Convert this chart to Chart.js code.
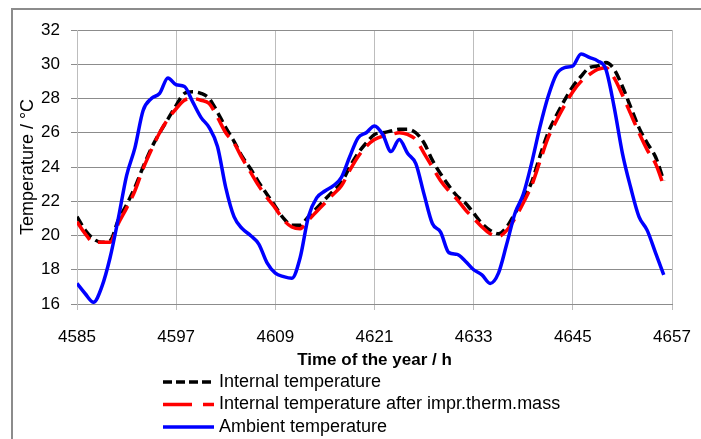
<!DOCTYPE html>
<html lang="en">
<head>
<meta charset="UTF-8">
<title>Internal and ambient temperature</title>
<style>
    body { margin: 0; background: #ffffff; overflow: hidden; }
    .frame { position: absolute; left: 11px; top: 8px; width: 760px; height: 500px; border: 2px solid #8c8c8c; }
    .wrap { position: absolute; left: 0; top: 0; width: 701px; height: 439px; }
</style>
<script src="https://cdn.jsdelivr.net/npm/chart.js"></script>
</head>
<body>
<div class="frame"></div>
<div class="wrap"><canvas id="chart" width="701" height="439"></canvas></div>
<script>
// hours of the year, one value per hour starting at 4585
const startHour = 4585;
const xTicks = [4585, 4597, 4609, 4621, 4633, 4645, 4657];

const internalTemp = [
    21.1, 20.3, 19.8, 19.6, 19.7, 20.9, 21.8, 22.8, 24.0, 25.1, 26.0, 26.8, 27.6, 28.3, 28.4, 28.3,
    28.0, 27.2, 26.3, 25.5, 24.6, 23.9, 23.1, 22.4, 21.7, 21.0, 20.6, 20.6, 21.1, 21.6, 22.1, 22.6,
    23.1, 24.0, 24.8, 25.4, 25.9, 26.0, 26.1, 26.2, 26.2, 26.0, 25.4, 24.4, 23.6, 22.9, 22.3, 21.9,
    21.3, 20.7, 20.3, 20.1, 20.5, 21.3, 22.1, 23.1, 24.6, 26.0, 27.0, 27.9, 28.7, 29.3, 29.8, 29.9,
    30.1, 29.7, 28.7, 27.5, 26.3, 25.4, 24.6, 23.2
];
const improvedTemp = [
    20.8, 20.1, 19.6, 19.6, 19.6, 20.7, 21.6, 22.6, 23.9, 25.0, 26.0, 26.8, 27.4, 27.9, 28.0, 27.9,
    27.7, 26.9, 26.0, 25.4, 24.5, 23.7, 22.9, 22.2, 21.6, 20.9, 20.5, 20.4, 20.9, 21.4, 21.9, 22.4,
    22.9, 23.8, 24.6, 25.2, 25.6, 25.8, 25.9, 26.0, 25.9, 25.6, 24.8, 24.0, 23.2, 22.6, 22.1, 21.5,
    21.0, 20.5, 20.1, 19.95, 20.3, 21.0, 21.9, 22.9, 24.3, 25.7, 26.7, 27.6, 28.4, 29.0, 29.4, 29.7,
    29.8, 29.2, 28.2, 27.1, 26.0, 25.0, 24.2, 22.9
];
const ambientTemp = [
    17.2, 16.6, 16.1, 17.0, 18.7, 21.0, 23.5, 25.1, 27.3, 28.0, 28.3, 29.2, 28.8, 28.7, 27.8, 26.9,
    26.3, 25.2, 22.8, 21.1, 20.4, 20.0, 19.5, 18.4, 17.8, 17.6, 17.5, 18.7, 21.1, 22.2, 22.6, 22.9,
    23.4, 24.6, 25.7, 26.0, 26.4, 25.9, 24.9, 25.6, 24.8, 24.2, 22.4, 20.7, 20.2, 19.0, 18.9, 18.5,
    18.0, 17.7, 17.2, 17.8, 19.5, 21.3, 22.4, 24.2, 26.3, 28.1, 29.4, 29.8, 29.9, 30.6, 30.4, 30.2,
    29.7, 27.5, 24.8, 22.8, 21.1, 20.3, 19.0, 17.7
];

const FONT = "'Liberation Sans', Arial, sans-serif";

function toPoints(values) {
    return values.map((v, i) => ({ x: startHour + i, y: v }));
}

// legend drawn as a vertical list under the axis title
const listLegend = {
    id: 'listLegend',
    afterDraw(chart) {
        const ctx = chart.ctx;
        chart.data.datasets.forEach((ds, i) => {
            const y = 382 + i * 22.5;
            ctx.save();
            ctx.strokeStyle = ds.borderColor;
            ctx.lineWidth = 3.5;
            ctx.setLineDash(ds.legendDash);
            ctx.beginPath();
            ctx.moveTo(163, y);
            ctx.lineTo(214, y);
            ctx.stroke();
            ctx.setLineDash([]);
            ctx.fillStyle = '#000000';
            ctx.font = '18px ' + FONT;
            ctx.textBaseline = 'middle';
            ctx.fillText(ds.label, 219, y);
            ctx.restore();
        });
    }
};

new Chart(document.getElementById('chart'), {
    type: 'line',
    data: {
        datasets: [
            {
                label: 'Internal temperature',
                data: toPoints(internalTemp),
                borderColor: '#000000',
                borderWidth: 3.5,
                borderDash: [10, 5],
                legendDash: [9, 4],
                order: 2
            },
            {
                label: 'Internal temperature after impr.therm.mass',
                data: toPoints(improvedTemp),
                borderColor: '#ff0000',
                borderWidth: 3.5,
                borderDash: [22, 9],
                legendDash: [29, 11],
                order: 1
            },
            {
                label: 'Ambient temperature',
                data: toPoints(ambientTemp),
                borderColor: '#0000ff',
                borderWidth: 3.5,
                legendDash: [],
                order: 0
            }
        ]
    },
    options: {
        responsive: false,
        animation: false,
        layout: { padding: { left: 0, top: 30, right: 29, bottom: 0 } },
        elements: {
            point: { radius: 0 },
            line: { cubicInterpolationMode: 'monotone', fill: false }
        },
        plugins: {
            legend: { display: false },
            tooltip: { enabled: false }
        },
        scales: {
            x: {
                type: 'linear',
                min: 4585,
                max: 4657,
                afterBuildTicks: scale => { scale.ticks = xTicks.map(v => ({ value: v })); },
                afterFit: scale => {
                    scale.height = 135;
                    scale.paddingLeft = 0;
                    scale.paddingRight = 0;
                },
                grid: { color: '#bdbdbd', tickLength: 6 },
                border: { color: '#8c8c8c' },
                ticks: {
                    color: '#000000',
                    padding: 17,
                    font: { family: FONT, size: 17 },
                    callback: v => String(v)
                },
                title: {
                    display: true,
                    text: 'Time of the year / h',
                    color: '#000000',
                    font: { family: FONT, size: 17, weight: 'bold' },
                    padding: { top: 0, bottom: 68 }
                }
            },
            y: {
                min: 16,
                max: 32,
                afterFit: scale => {
                    scale.width = 77;
                    scale.paddingTop = 0;
                    scale.paddingBottom = 0;
                },
                grid: { color: '#8c8c8c', tickLength: 6 },
                border: { color: '#bdbdbd' },
                ticks: { stepSize: 2, color: '#000000', padding: 11, font: { family: FONT, size: 17 } },
                title: {
                    display: true,
                    text: 'Temperature / °C',
                    color: '#000000',
                    font: { family: FONT, size: 18 },
                    padding: { top: 17, bottom: 0 }
                }
            }
        }
    },
    plugins: [listLegend]
});
</script>
</body>
</html>
